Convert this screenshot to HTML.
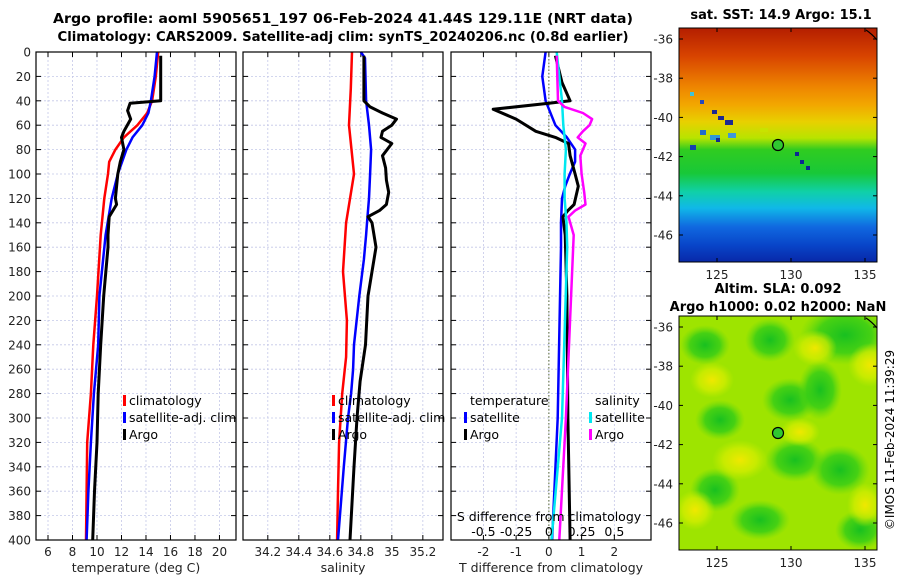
<!DOCTYPE html>
<html><head><meta charset="utf-8"><style>
html,body{margin:0;padding:0;background:#fff;}
svg{display:block;font-family:"DejaVu Sans","Liberation Sans",sans-serif;}
</style></head><body>
<svg id="fig" width="900" height="580" viewBox="0 0 900 580">
<defs>
<linearGradient id="sstGrad" x1="0" y1="0" x2="0" y2="1">
<stop offset="0" stop-color="#b41e00"/><stop offset="0.12" stop-color="#d84400"/>
<stop offset="0.25" stop-color="#ee8400"/><stop offset="0.33" stop-color="#f2a800"/>
<stop offset="0.4" stop-color="#e8d000"/><stop offset="0.47" stop-color="#b8e400"/>
<stop offset="0.52" stop-color="#30cc20"/><stop offset="0.62" stop-color="#18c838"/>
<stop offset="0.7" stop-color="#10d0a8"/><stop offset="0.77" stop-color="#10b8e8"/>
<stop offset="0.85" stop-color="#1068e0"/><stop offset="0.93" stop-color="#0844c8"/>
<stop offset="1" stop-color="#0828a8"/></linearGradient>
<radialGradient id="gBlob"><stop offset="0" stop-color="#18c020"/><stop offset="0.6" stop-color="#30cc18" stop-opacity="0.8"/><stop offset="1" stop-color="#60d810" stop-opacity="0"/></radialGradient>
<radialGradient id="yBlob"><stop offset="0" stop-color="#f0e800"/><stop offset="0.6" stop-color="#d8ee00" stop-opacity="0.7"/><stop offset="1" stop-color="#c8ec00" stop-opacity="0"/></radialGradient>
<clipPath id="clipM2"><rect x="679" y="316" width="198" height="234"/></clipPath>
</defs>
<g id="titles">
<text x="343" y="23" text-anchor="middle" font-size="13" font-weight="bold" textLength="580" lengthAdjust="spacingAndGlyphs">Argo profile: aoml 5905651_197 06-Feb-2024 41.44S 129.11E (NRT data)</text>
<text x="343" y="41" text-anchor="middle" font-size="13" font-weight="bold" textLength="571" lengthAdjust="spacingAndGlyphs">Climatology: CARS2009. Satellite-adj clim: synTS_20240206.nc (0.8d earlier)</text>
<text x="781" y="19" text-anchor="middle" font-size="13" font-weight="bold">sat. SST: 14.9 Argo: 15.1</text>
<text x="778" y="293" text-anchor="middle" font-size="13" font-weight="bold">Altim. SLA: 0.092</text>
<text x="778" y="311" text-anchor="middle" font-size="13" font-weight="bold">Argo h1000: 0.02 h2000: NaN</text>
<text transform="translate(894,440) rotate(-90)" text-anchor="middle" font-size="12">©IMOS 11-Feb-2024 11:39:29</text>
</g>
<g id="panels"></g>
<g id="maps">
<rect x="679" y="28" width="198" height="234" fill="url(#sstGrad)"/>
<g opacity="0.9">
<rect x="690" y="92" width="4" height="4" fill="#30c8f0"/><rect x="700" y="100" width="4" height="4" fill="#1040d0"/>
<rect x="712" y="110" width="5" height="4" fill="#0818a0"/><rect x="718" y="116" width="6" height="4" fill="#0818a0"/>
<rect x="725" y="120" width="8" height="5" fill="#0818a0"/><rect x="700" y="130" width="6" height="5" fill="#1060e0"/>
<rect x="710" y="135" width="10" height="5" fill="#2090f0"/><rect x="728" y="133" width="8" height="5" fill="#3090f0"/>
<rect x="690" y="145" width="6" height="5" fill="#1030c0"/><rect x="716" y="138" width="4" height="4" fill="#0818a0"/>
<rect x="795" y="152" width="4" height="4" fill="#0818a0"/><rect x="800" y="160" width="4" height="4" fill="#0818a0"/>
<rect x="806" y="166" width="4" height="4" fill="#0818a0"/><rect x="760" y="128" width="8" height="4" fill="#c8e400"/>
</g>
<rect x="679" y="28" width="198" height="234" fill="none" stroke="#000" stroke-width="1"/>
<circle cx="778" cy="145" r="5.5" fill="#30c830" stroke="#000" stroke-width="1.2"/>
<path d="M866,30 Q872,34 877,40" fill="none" stroke="#000" stroke-width="1.2"/>
<g clip-path="url(#clipM2)">
<rect x="679" y="316" width="198" height="234" fill="#9ee400"/>
<ellipse cx="705" cy="345" rx="25" ry="20" fill="url(#gBlob)"/><ellipse cx="770" cy="340" rx="25" ry="22" fill="url(#gBlob)"/>
<ellipse cx="845" cy="335" rx="45" ry="30" fill="url(#gBlob)"/><ellipse cx="790" cy="400" rx="28" ry="22" fill="url(#gBlob)"/>
<ellipse cx="720" cy="420" rx="25" ry="20" fill="url(#gBlob)"/><ellipse cx="820" cy="390" rx="22" ry="30" fill="url(#gBlob)"/>
<ellipse cx="795" cy="460" rx="30" ry="22" fill="url(#gBlob)"/><ellipse cx="715" cy="490" rx="25" ry="22" fill="url(#gBlob)"/>
<ellipse cx="840" cy="470" rx="30" ry="25" fill="url(#gBlob)"/><ellipse cx="760" cy="520" rx="30" ry="20" fill="url(#gBlob)"/>
<ellipse cx="860" cy="530" rx="25" ry="20" fill="url(#gBlob)"/>
<ellipse cx="712" cy="380" rx="22" ry="18" fill="url(#yBlob)"/><ellipse cx="815" cy="348" rx="22" ry="18" fill="url(#yBlob)"/>
<ellipse cx="870" cy="365" rx="22" ry="22" fill="url(#yBlob)"/><ellipse cx="740" cy="460" rx="28" ry="20" fill="url(#yBlob)"/>
<ellipse cx="800" cy="432" rx="20" ry="14" fill="url(#yBlob)"/><ellipse cx="695" cy="510" rx="20" ry="20" fill="url(#yBlob)"/>
<ellipse cx="865" cy="505" rx="18" ry="22" fill="url(#yBlob)"/>
</g>
<rect x="679" y="316" width="198" height="234" fill="none" stroke="#000" stroke-width="1"/>
<circle cx="778" cy="433" r="5.5" fill="#30c830" stroke="#000" stroke-width="1.2"/>
<path d="M866,318 Q872,322 877,328" fill="none" stroke="#000" stroke-width="1.2"/>
</g>
<g id="mapaxes"></g>
</svg>
<script>
// ---------- data ----------
const depthTicks = [0,20,40,60,80,100,120,140,160,180,200,220,240,260,280,300,320,340,360,380,400];
const tempTicks = [6,8,10,12,14,16,18,20];
const salTicks = [34.2,34.4,34.6,34.8,35,35.2];
const salTickLabels = ["34.2","34.4","34.6","34.8","35","35.2"];
const dTTicks = [-2,-1,0,1,2];
const dSTicks = [-0.5,-0.25,0,0.25,0.5];
const dSTickLabels = ["-0.5","-0.25","0","0.25","0.5"];

const climDepth = [0,20,40,50,60,70,80,90,100,120,150,200,240,280,320,360,400];
const climTemp  = [15.0,14.8,14.5,14.1,13.3,12.2,11.5,11.0,10.9,10.6,10.3,10.0,9.7,9.5,9.2,9.15,9.1];
const satDepth  = [0,20,40,50,60,70,80,100,120,150,200,240,280,320,360,400];
const satTemp   = [14.9,14.7,14.4,14.2,13.7,12.9,12.4,11.7,11.2,10.7,10.2,10.1,9.75,9.5,9.3,9.15];
const argoDepth = [3,20,40,42,48,55,65,70,80,90,100,120,125,135,150,160,200,240,280,320,360,400];
const argoTemp  = [15.2,15.2,15.2,12.7,12.5,12.75,12.2,12.0,12.2,11.9,11.7,11.5,11.6,11.0,10.9,10.9,10.55,10.3,10.1,10.0,9.8,9.65];

const climSDepth = [0,30,60,100,140,180,220,250,280,320,360,400];
const climSal    = [34.743,34.735,34.724,34.756,34.705,34.685,34.71,34.705,34.68,34.66,34.653,34.647];
const satSDepth  = [0,5,40,60,80,100,120,140,150,170,200,240,260,280,300,340,400];
const satSal     = [34.80,34.827,34.834,34.853,34.866,34.86,34.853,34.84,34.834,34.82,34.79,34.756,34.75,34.737,34.717,34.69,34.653];
const argoSDepth = [3,40,45,50,55,60,65,70,75,85,95,105,115,125,130,135,140,150,160,200,240,270,300,340,400];
const argoSal    = [34.82,34.82,34.86,34.94,35.03,35.0,34.94,34.93,35.0,34.94,34.96,34.965,34.98,34.965,34.92,34.846,34.872,34.885,34.898,34.846,34.83,34.795,34.775,34.756,34.73];

const dTSatDepth = [0,20,40,60,70,80,90,100,110,120,140,160,300,400];
const dTSat      = [-0.1,-0.2,-0.1,0.2,0.55,0.8,0.8,0.64,0.5,0.4,0.37,0.37,0.27,0.1];
const dTArgoDepth= [3,25,40,42,47,55,65,70,75,85,100,110,125,130,135,150,200,300,400];
const dTArgo     = [0.2,0.4,0.65,0,-1.7,-1.0,-0.4,0.2,0.6,0.65,0.8,0.9,0.77,0.58,0.43,0.5,0.55,0.58,0.65];
const dSSatDepth = [0,20,40,60,80,100,120,140,160,300,400];
const dSSat      = [0.06,0.08,0.1,0.11,0.13,0.12,0.12,0.135,0.14,0.1,0.02];
const dSArgoDepth= [3,40,45,50,55,60,65,70,75,85,100,115,125,130,135,150,200,300,400];
const dSArgo     = [0.06,0.07,0.12,0.26,0.33,0.31,0.26,0.22,0.28,0.24,0.25,0.27,0.28,0.2,0.15,0.19,0.17,0.13,0.08];

const mapLonTicks = [125,130,135];
const mapLatTicks = [-36,-38,-40,-42,-44,-46];

// ---------- helpers ----------
const NS = "http://www.w3.org/2000/svg";
const Y0 = 52, Y1 = 540;
function yD(d){ return Y0 + d/400*(Y1-Y0); }
function mk(tag, attrs, parent){
  const e = document.createElementNS(NS, tag);
  for (const k in attrs) e.setAttribute(k, attrs[k]);
  parent.appendChild(e); return e;
}
const panels = document.getElementById('panels');

function panel(name, x0, x1, dmin, dmax, ticks, labels, xlabel){
  const g = mk('g', {}, panels);
  
  
  const sx = v => x0 + (v-dmin)/(dmax-dmin)*(x1-x0);
  depthTicks.forEach(d => {
    const l = mk('line', {x1:x0, x2:x1, y1:yD(d), y2:yD(d), stroke:'#c4c8e8', 'stroke-width':0.8, 'stroke-dasharray':'2,2'}, g);
    
    
    mk('line', {x1:x0, x2:x0+5, y1:yD(d), y2:yD(d), stroke:'#000'}, g);
    mk('line', {x1:x1-5, x2:x1, y1:yD(d), y2:yD(d), stroke:'#000'}, g);
  });
  ticks.forEach((t,i) => {
    const x = sx(t);
    const l = mk('line', {x1:x, x2:x, y1:Y0, y2:Y1, stroke:'#c4c8e8', 'stroke-width':0.8, 'stroke-dasharray':'2,2'}, g);
    
    
    mk('line', {x1:x, x2:x, y1:Y0, y2:Y0+5, stroke:'#000'}, g);
    mk('line', {x1:x, x2:x, y1:Y1-5, y2:Y1, stroke:'#000'}, g);
    const t2 = mk('text', {x:x, y:556, 'text-anchor':'middle', 'font-size':12, fill:'#222'}, g);
    
    
    t2.textContent = labels[i];
  });
  const xt = mk('text', {x:(x0+x1)/2, y:572, 'text-anchor':'middle', 'font-size':12.5, fill:'#222'}, g);
  
  
  xt.textContent = xlabel;
  return {g, sx};
}
function line(p, xs, ds, color, w, name){
  const pts = xs.map((v,i) => p.sx(v).toFixed(1)+','+yD(ds[i]).toFixed(1)).join(' ');
  const pl = mk('polyline', {points:pts, fill:'none', stroke:color, 'stroke-width':w, 'stroke-linejoin':'round'}, p.g);
  
  
}
function frame(p, x0, x1){
  const r = mk('rect', {x:x0, y:Y0, width:x1-x0, height:Y1-Y0, fill:'none', stroke:'#000', 'stroke-width':1.2}, p.g);
  
  
}
function legendEntry(g, x, y, color, label){
  const r = mk('rect', {x:x-6, y:y-10, width:3, height:11, fill:color}, g);
  
  
  const t = mk('text', {x:x, y:y, 'font-size':12.5, fill:'#000'}, g);
  
  
  t.textContent = label;
}

depthTicks.forEach(d => {
  const t = mk('text', {x:31, y:yD(d)+4.5, 'text-anchor':'end', 'font-size':12, fill:'#222'}, panels);
  
  
  t.textContent = d;
});

const p1 = panel('temperature-panel', 36, 236, 5.02, 21.35, tempTicks, tempTicks.map(String), 'temperature (deg C)');
line(p1, climTemp, climDepth, '#ff0000', 2.5, 'climatology-temp-line');
line(p1, satTemp, satDepth, '#0000ff', 2.5, 'satellite-temp-line');
line(p1, argoTemp, argoDepth, '#000000', 3, 'argo-temp-line');
frame(p1, 36, 236);
legendEntry(p1.g, 129, 405, '#ff0000', 'climatology');
legendEntry(p1.g, 129, 422, '#0000ff', 'satellite-adj. clim');
legendEntry(p1.g, 129, 439, '#000000', 'Argo');

const p2 = panel('salinity-panel', 243, 443, 34.04, 35.33, salTicks, salTickLabels, 'salinity');
line(p2, climSal, climSDepth, '#ff0000', 2.5, 'climatology-sal-line');
line(p2, satSal, satSDepth, '#0000ff', 2.5, 'satellite-sal-line');
line(p2, argoSal, argoSDepth, '#000000', 3, 'argo-sal-line');
frame(p2, 243, 443);
legendEntry(p2.g, 338, 405, '#ff0000', 'climatology');
legendEntry(p2.g, 338, 422, '#0000ff', 'satellite-adj. clim');
legendEntry(p2.g, 338, 439, '#000000', 'Argo');

const p3 = panel('difference-panel', 451, 651, -2.99, 3.12, dTTicks, dTTicks.map(String), 'T difference from climatology');
const sxS = v => p3.sx(v*4);
const zl = mk('line', {x1:p3.sx(0), x2:p3.sx(0), y1:Y0, y2:Y1, stroke:'#556633', 'stroke-width':1, 'stroke-dasharray':'1.5,2'}, p3.g);


line(p3, dTSat, dTSatDepth, '#0000ff', 2.5, 'satellite-dT-line');
line(p3, dTArgo, dTArgoDepth, '#000000', 3, 'argo-dT-line');
line(p3, dSSat.map(v=>v*4), dSSatDepth, '#00e8f0', 2.5, 'satellite-dS-line');
line(p3, dSArgo.map(v=>v*4), dSArgoDepth, '#ff00ff', 2.5, 'argo-dS-line');
frame(p3, 451, 651);
{
  const t = mk('text', {x:470, y:405, 'font-size':12.5}, p3.g);
  
  
  t.textContent = 'temperature';
  const t2 = mk('text', {x:595, y:405, 'font-size':12.5}, p3.g);
  
  
  t2.textContent = 'salinity';
}
legendEntry(p3.g, 470, 422, '#0000ff', 'satellite');
legendEntry(p3.g, 470, 439, '#000000', 'Argo');
legendEntry(p3.g, 595, 422, '#00e8f0', 'satellite');
legendEntry(p3.g, 595, 439, '#ff00ff', 'Argo');
{
  const t = mk('text', {x:549, y:521, 'text-anchor':'middle', 'font-size':12.5}, p3.g);
  
  
  t.textContent = 'S difference from climatology';
  dSTicks.forEach((v,i) => {
    const l = mk('text', {x:sxS(v), y:536, 'text-anchor':'middle', 'font-size':12.5}, p3.g);
    
    
    l.textContent = dSTickLabels[i];
  });
}

const ma = document.getElementById('mapaxes');
function mapAxes(top, name){
  const g = mk('g', {}, ma);
  
  
  const x0 = 679, x1 = 877, h = 234;
  const lonX = v => 717 + (v-125)*14.8;
  const latY = v => top + 11 + (-36 - v)*19.6;
  mapLonTicks.forEach(v => {
    const x = lonX(v);
    mk('line', {x1:x, x2:x, y1:top+h, y2:top+h-4, stroke:'#000'}, g);
    mk('line', {x1:x, x2:x, y1:top, y2:top+4, stroke:'#000'}, g);
    const t = mk('text', {x:x, y:top+h+17, 'text-anchor':'middle', 'font-size':12, fill:'#222'}, g);
    
    
    t.textContent = v;
  });
  mapLatTicks.forEach(v => {
    const y = latY(v);
    mk('line', {x1:x0, x2:x0+4, y1:y, y2:y, stroke:'#000'}, g);
    mk('line', {x1:x1-4, x2:x1, y1:y, y2:y, stroke:'#000'}, g);
    const t = mk('text', {x:673, y:y+4.5, 'text-anchor':'end', 'font-size':12, fill:'#222'}, g);
    
    
    t.textContent = v;
  });
}
mapAxes(28, 'sst-map-axes');
mapAxes(316, 'sla-map-axes');
</script>
</body></html>
